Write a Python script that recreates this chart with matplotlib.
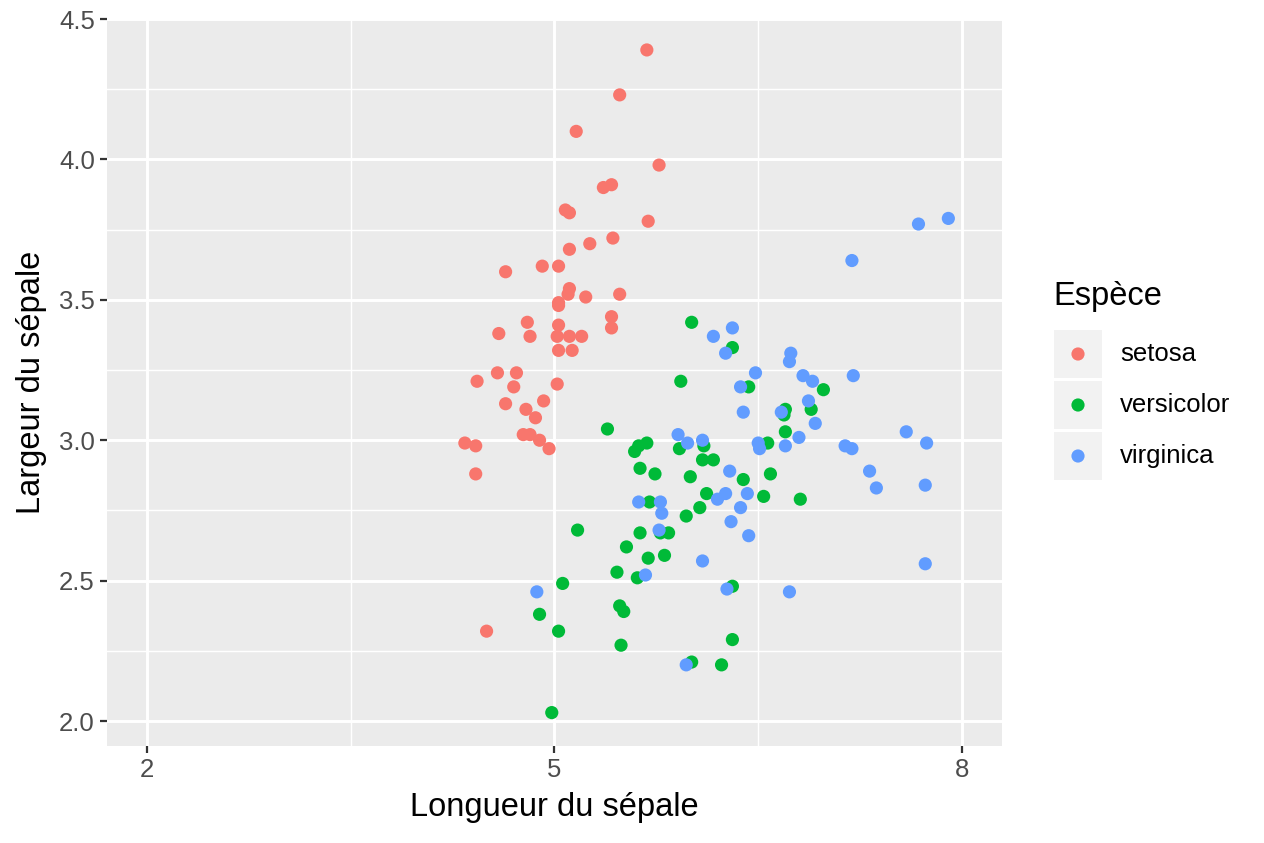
import matplotlib
matplotlib.use("Agg")
import matplotlib.pyplot as plt
from matplotlib.patches import Rectangle
from matplotlib.ticker import FixedLocator

plt.rcParams['font.family'] = ['Liberation Sans', 'DejaVu Sans']

species = ["setosa", "versicolor", "virginica"]
colors = ["#F8766D", "#00BA38", "#619CFF"]

setosa_x = [5.68, 5.48, 5.16, 5.77, 5.42, 5.36, 5.69, 5.08, 5.11, 5.43, 5.26, 5.11,
            4.64, 4.91, 5.03, 5.11, 5.10, 5.03, 5.03, 5.23, 5.48, 4.80, 5.03, 5.42,
            5.42, 4.59, 4.82, 5.02, 5.11, 5.20, 5.03, 5.13, 4.58, 4.72, 4.43, 4.70,
            5.02, 4.64, 4.92, 4.79, 4.86, 4.77, 4.82, 4.89, 4.96, 4.34, 4.42, 4.42, 4.50]
setosa_y = [4.39, 4.23, 4.10, 3.98, 3.91, 3.90, 3.78, 3.82, 3.81, 3.72, 3.70, 3.68,
            3.60, 3.62, 3.62, 3.54, 3.52, 3.49, 3.48, 3.51, 3.52, 3.42, 3.41, 3.44,
            3.40, 3.38, 3.37, 3.37, 3.37, 3.37, 3.32, 3.32, 3.24, 3.24, 3.21, 3.19,
            3.20, 3.13, 3.14, 3.11, 3.08, 3.02, 3.02, 3.00, 2.97, 2.99, 2.98, 2.88, 2.32]

versicolor_x = [6.01, 6.31, 6.43, 5.93, 5.39, 5.68, 5.62, 5.59, 5.92, 6.10, 6.09, 6.17,
                6.57, 5.63, 5.74, 6.00, 6.39, 6.59, 6.12, 5.70, 6.54, 6.07, 5.97, 5.63,
                5.78, 5.84, 5.53, 5.69, 5.81, 5.46, 5.61, 6.31, 5.48, 5.51, 5.49, 6.31,
                6.01, 6.23, 5.17, 5.06, 4.89, 5.03, 4.98, 6.98, 6.89, 6.70, 6.69, 6.70, 6.81]
versicolor_y = [3.42, 3.33, 3.19, 3.21, 3.04, 2.99, 2.98, 2.96, 2.97, 2.98, 2.93, 2.93,
                2.99, 2.90, 2.88, 2.87, 2.86, 2.88, 2.81, 2.78, 2.80, 2.76, 2.73, 2.67,
                2.67, 2.67, 2.62, 2.58, 2.59, 2.53, 2.51, 2.48, 2.41, 2.39, 2.27, 2.29,
                2.21, 2.20, 2.68, 2.49, 2.38, 2.32, 2.03, 3.18, 3.11, 3.11, 3.09, 3.03, 2.79]

virginica_x = [6.31, 6.17, 6.26, 6.48, 6.37, 6.39, 5.91, 5.98, 6.09, 6.50, 6.51, 6.29,
               6.26, 6.20, 6.42, 5.62, 5.78, 5.79, 6.37, 6.30, 6.43, 5.77, 6.09, 5.67,
               6.27, 5.97, 4.87, 6.74, 6.73, 6.83, 6.90, 7.20, 6.87, 6.67, 6.92, 6.70,
               6.80, 7.14, 7.19, 7.59, 7.74, 7.32, 7.37, 7.73, 7.73, 6.73, 7.68, 7.90, 7.19]
virginica_y = [3.40, 3.37, 3.31, 3.24, 3.19, 3.10, 3.02, 2.99, 3.00, 2.99, 2.97, 2.89,
               2.81, 2.79, 2.81, 2.78, 2.78, 2.74, 2.76, 2.71, 2.66, 2.68, 2.57, 2.52,
               2.47, 2.20, 2.46, 3.31, 3.28, 3.23, 3.21, 3.23, 3.14, 3.10, 3.06, 2.98,
               3.01, 2.98, 2.97, 3.03, 2.99, 2.89, 2.83, 2.84, 2.56, 2.46, 3.77, 3.79, 3.64]

x_ticks = [2, 5, 8]
x_minor = [3.5, 6.5]
y_ticks = [2.0, 2.5, 3.0, 3.5, 4.0, 4.5]
y_minor = [2.25, 2.75, 3.25, 3.75, 4.25]
y_ticklabels = ["2.0", "2.5", "3.0", "3.5", "4.0", "4.5"]

W, H = 1264, 843
fig = plt.figure(figsize=(W / 100, H / 100), dpi=100)
fig.patch.set_facecolor("white")

left, right, top, bottom = 106.7, 1002, 18.5, 746
ax = fig.add_axes([left / W, 1 - bottom / H, (right - left) / W, (bottom - top) / H])
ax.set_facecolor("#EBEBEB")
for s in ax.spines.values():
    s.set_visible(False)

series = [(setosa_x, setosa_y), (versicolor_x, versicolor_y), (virginica_x, virginica_y)]
for (xs, ys), c in zip(series, colors):
    ax.scatter(xs, ys, s=90, color=c, edgecolors="none", zorder=3)

ax.set_xlim(1.703, 8.295)
ax.set_ylim(1.911, 4.502)
ax.set_xticks(x_ticks)
ax.set_xticklabels([str(v) for v in x_ticks])
ax.set_yticks(y_ticks)
ax.set_yticklabels(y_ticklabels)
ax.xaxis.set_minor_locator(FixedLocator(x_minor))
ax.yaxis.set_minor_locator(FixedLocator(y_minor))

ax.grid(which="major", color="white", linewidth=2.1, zorder=1)
ax.grid(which="minor", color="white", linewidth=1.05, zorder=1)
ax.set_axisbelow(True)

ax.tick_params(which="major", length=5, width=1.6, color="#333333",
               labelsize=18.5, labelcolor="#4D4D4D", pad=3.5)
ax.tick_params(which="minor", length=0)

ax.set_xlabel("Longueur du sépale", fontsize=23.5, color="black", labelpad=7)
ax.set_ylabel("Largeur du sépale", fontsize=23.5, color="black", labelpad=9)

# legend (drawn in pixel coordinates)
lg = fig.add_axes([0, 0, 1, 1], facecolor="none")
lg.set_xlim(0, W)
lg.set_ylim(H, 0)
lg.axis("off")
lg.text(1053, 297, "Espèce", fontsize=23.5, va="center", ha="left", color="black")
key_tops = [330, 381, 432]
for kt, name, c in zip(key_tops, species, colors):
    lg.add_patch(Rectangle((1054, kt), 48, 48, facecolor="#F2F2F2", edgecolor="none"))
    lg.scatter([1078], [kt + 24], s=90, color=c, edgecolors="none")
    lg.text(1120, kt + 24, name, fontsize=18.5, va="center", ha="left", color="black")

fig.savefig("out.png", dpi=100)
